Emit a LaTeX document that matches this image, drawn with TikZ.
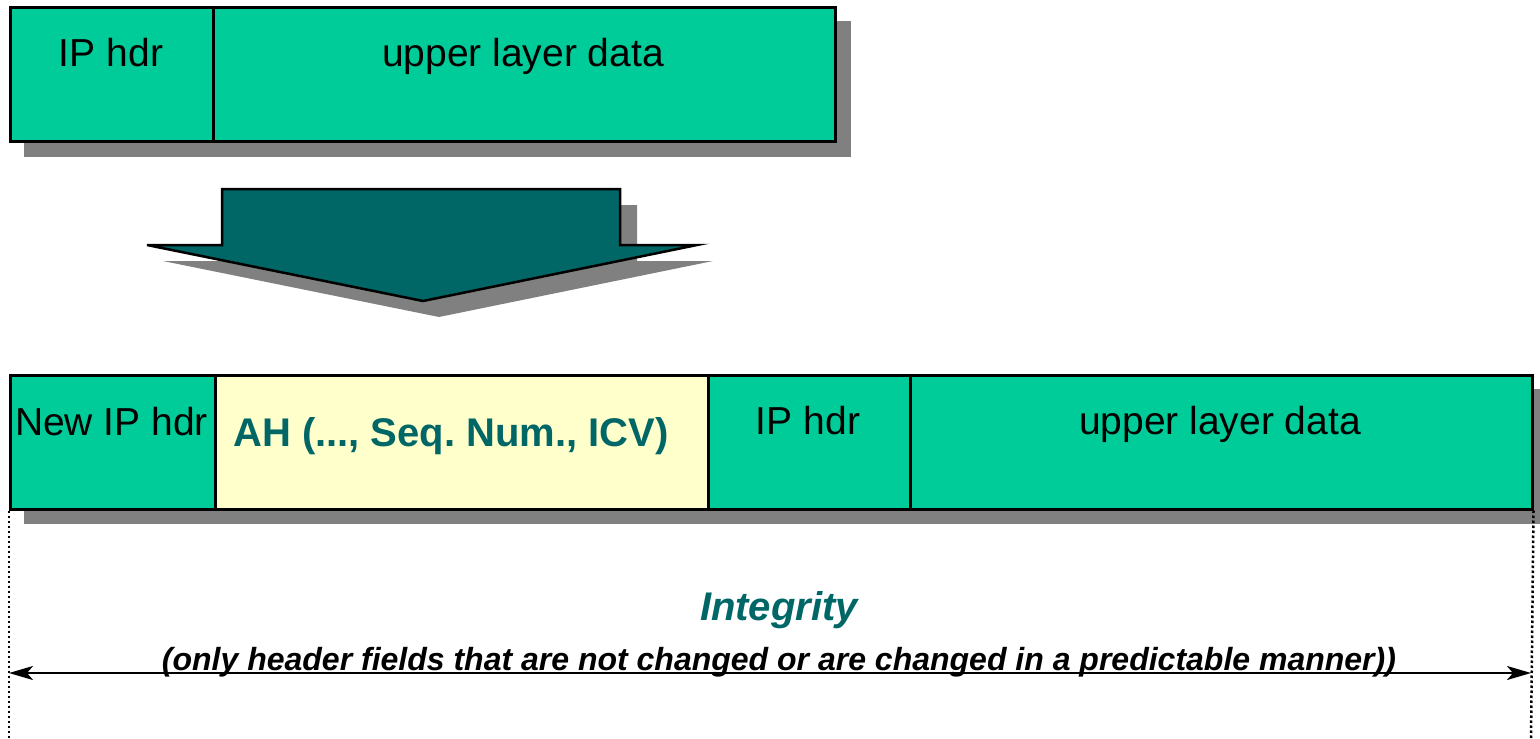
\documentclass[tikz,border=0pt]{standalone}
\usepackage{fontspec}
\setmainfont{Liberation Sans}
\frenchspacing
\usetikzlibrary{arrows.meta}
\definecolor{pktgreen}{RGB}{0,204,153}
\definecolor{ahyellow}{RGB}{255,255,204}
\definecolor{tealdark}{RGB}{0,102,102}
\definecolor{shadowgray}{RGB}{128,128,128}
\begin{document}
\begin{tikzpicture}[x=1pt,y=-1pt,
  field/.style={draw=black, line width=2.5pt, fill=pktgreen, rectangle, inner sep=0pt, anchor=north west, minimum height=134pt},
  ahfield/.style={field, fill=ahyellow},
  shadowbox/.style={fill=shadowgray, draw=none},
  lbl/.style={anchor=base, inner sep=0pt, font=\fontsize{39}{39}\selectfont},
  ahlbl/.style={anchor=base, inner sep=0pt, text=tealdark, font=\fontsize{40}{40}\selectfont\bfseries},
  titlelbl/.style={anchor=base, inner sep=0pt, text=tealdark, font=\fontsize{40}{40}\selectfont\bfseries\itshape},
  notelbl/.style={anchor=base, inner sep=0pt, font=\fontsize{32}{32}\selectfont\bfseries\itshape},
  bigarrow/.style={fill=tealdark, draw=black, line width=2.5pt, line join=miter},
  guide/.style={line width=2.5pt, dash pattern=on 2.5pt off 2.5pt},
  span/.style={line width=2pt, {Stealth[length=24pt,width=14pt,inset=6pt]}-{Stealth[length=24pt,width=14pt,inset=6pt]}}
]
\useasboundingbox (0,0) rectangle (1540,739);

% ---------- top packet ----------
\fill[shadowbox] (24,21) rectangle (851,157);
\node[field, minimum width=203pt] (hdr1) at (9,6) {};
\node[field, minimum width=622pt] (data1) at (212,6) {};
\node[lbl] (thdr1) at (111,66) {IP hdr};
\node[lbl] (tdata1) at (523,66) {upper layer data};

% ---------- big arrow ----------
\fill[shadowbox] (238,205) -- (637,205) -- (637,261) -- (713,261) -- (439,317) -- (163,261) -- (238,261) -- cycle;
\draw[bigarrow] (222,189) -- (620,189) -- (620,245) -- (697,245) -- (423,301) -- (147,245) -- (222,245) -- cycle;

% ---------- bottom packet ----------
\fill[shadowbox] (24,389) rectangle (1548,524);
\node[field, minimum width=205pt] (newhdr) at (9,374) {};
\node[ahfield, minimum width=493pt] (ah) at (214,374) {};
\node[field, minimum width=202pt] (hdr2) at (707,374) {};
\node[field, minimum width=622pt] (data2) at (909,374) {};
\node[lbl] (tnewhdr) at (111.5,435) {New IP hdr};
\node[ahlbl] (tah) at (451,446) {AH (..., Seq. Num., ICV)};
\node[lbl] (thdr2) at (808,434) {IP hdr};
\node[lbl] (tdata2) at (1220,434) {upper layer data};

% ---------- integrity span ----------
\coordinate (lbot) at (9,739);
\coordinate (rbot) at (1531,739);
\coordinate (larr) at (9,673);
\coordinate (rarr) at (1531,673);
\draw[guide] (newhdr.south west) -- (lbot);
\draw[guide] (data2.south east) -- (rbot);
\draw[span] (larr) -- (rarr);
\node[titlelbl] (tint) at (779,620) {Integrity};
\node[notelbl] (tnote) at (779,670) {(only header fields that are not changed or are changed in a predictable manner))};
\end{tikzpicture}
\end{document}
